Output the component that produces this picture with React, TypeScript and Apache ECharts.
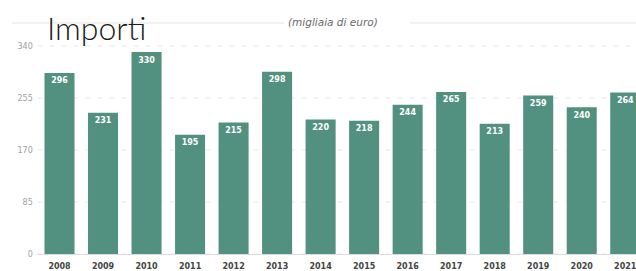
import React, { useEffect, useRef } from "react";
import * as echarts from "echarts";

const years = ["2008","2009","2010","2011","2012","2013","2014","2015","2016","2017","2018","2019","2020","2021"];
const importi = [296, 231, 330, 195, 215, 298, 220, 218, 244, 265, 213, 259, 240, 264];
const yTicks = [0, 85, 170, 255, 340];

export default function App() {
  const ref = useRef<HTMLDivElement>(null);
  useEffect(() => {
    if (!ref.current) return;
    const chart = echarts.init(ref.current, null, { renderer: "svg" });
    chart.setOption({
      animation: false,
      backgroundColor: "#ffffff",
      graphic: [
        { type: "line", z: 0, shape: { x1: 12, y1: 23, x2: 284, y2: 23 }, style: { stroke: "#f1f1f1", lineWidth: 2 } },
        { type: "line", z: 0, shape: { x1: 410, y1: 23, x2: 636, y2: 23 }, style: { stroke: "#f1f1f1", lineWidth: 2 } },
        { type: "text", z: 10, x: 47, y: 11, style: { text: "Importi", font: "300 32px Lato", fill: "#1a1a1a" } },
        { type: "text", z: 10, x: 288, y: 16, style: { text: "(migliaia di euro)", font: "italic 10.5px 'DejaVu Sans'", fill: "#6a6a6a" } },
      ],
      grid: { left: 37.75, right: 0, top: 46, bottom: 17, containLabel: false },
      xAxis: {
        type: "category",
        data: years,
        axisLine: { show: true, lineStyle: { color: "#dcdcdc", width: 1 } },
        axisTick: { show: false },
        axisLabel: { color: "#444", fontSize: 8, fontWeight: "bold", fontFamily: "'DejaVu Sans'", margin: 8, interval: 0 },
      },
      yAxis: {
        type: "value",
        min: 0,
        max: 340,
        interval: 85,
        axisLine: { show: false },
        axisTick: { show: false },
        axisLabel: { color: "#a0a0a0", fontSize: 8, fontFamily: "'DejaVu Sans'", margin: 5, formatter: (v: number) => (yTicks.includes(v) ? String(v) : "") },
        splitLine: { show: true, lineStyle: { color: "#efefef", type: [5, 7], width: 1.5 } },
      },
      series: [
        {
          type: "bar",
          data: importi,
          barWidth: "69%",
          itemStyle: { color: "#52907f" },
          label: {
            show: true,
            position: "insideTop",
            distance: 4,
            color: "#ffffff",
            fontSize: 8,
            fontWeight: "bold",
            fontFamily: "'DejaVu Sans'",
          },
        },
      ],
    });
    return () => chart.dispose();
  }, []);
  return (
    <div style={{ width: 636, height: 271, position: "absolute", left: 0, top: 0, overflow: "hidden" }}>
      <div ref={ref} style={{ width: 647, height: 271 }} />
    </div>
  );
}
